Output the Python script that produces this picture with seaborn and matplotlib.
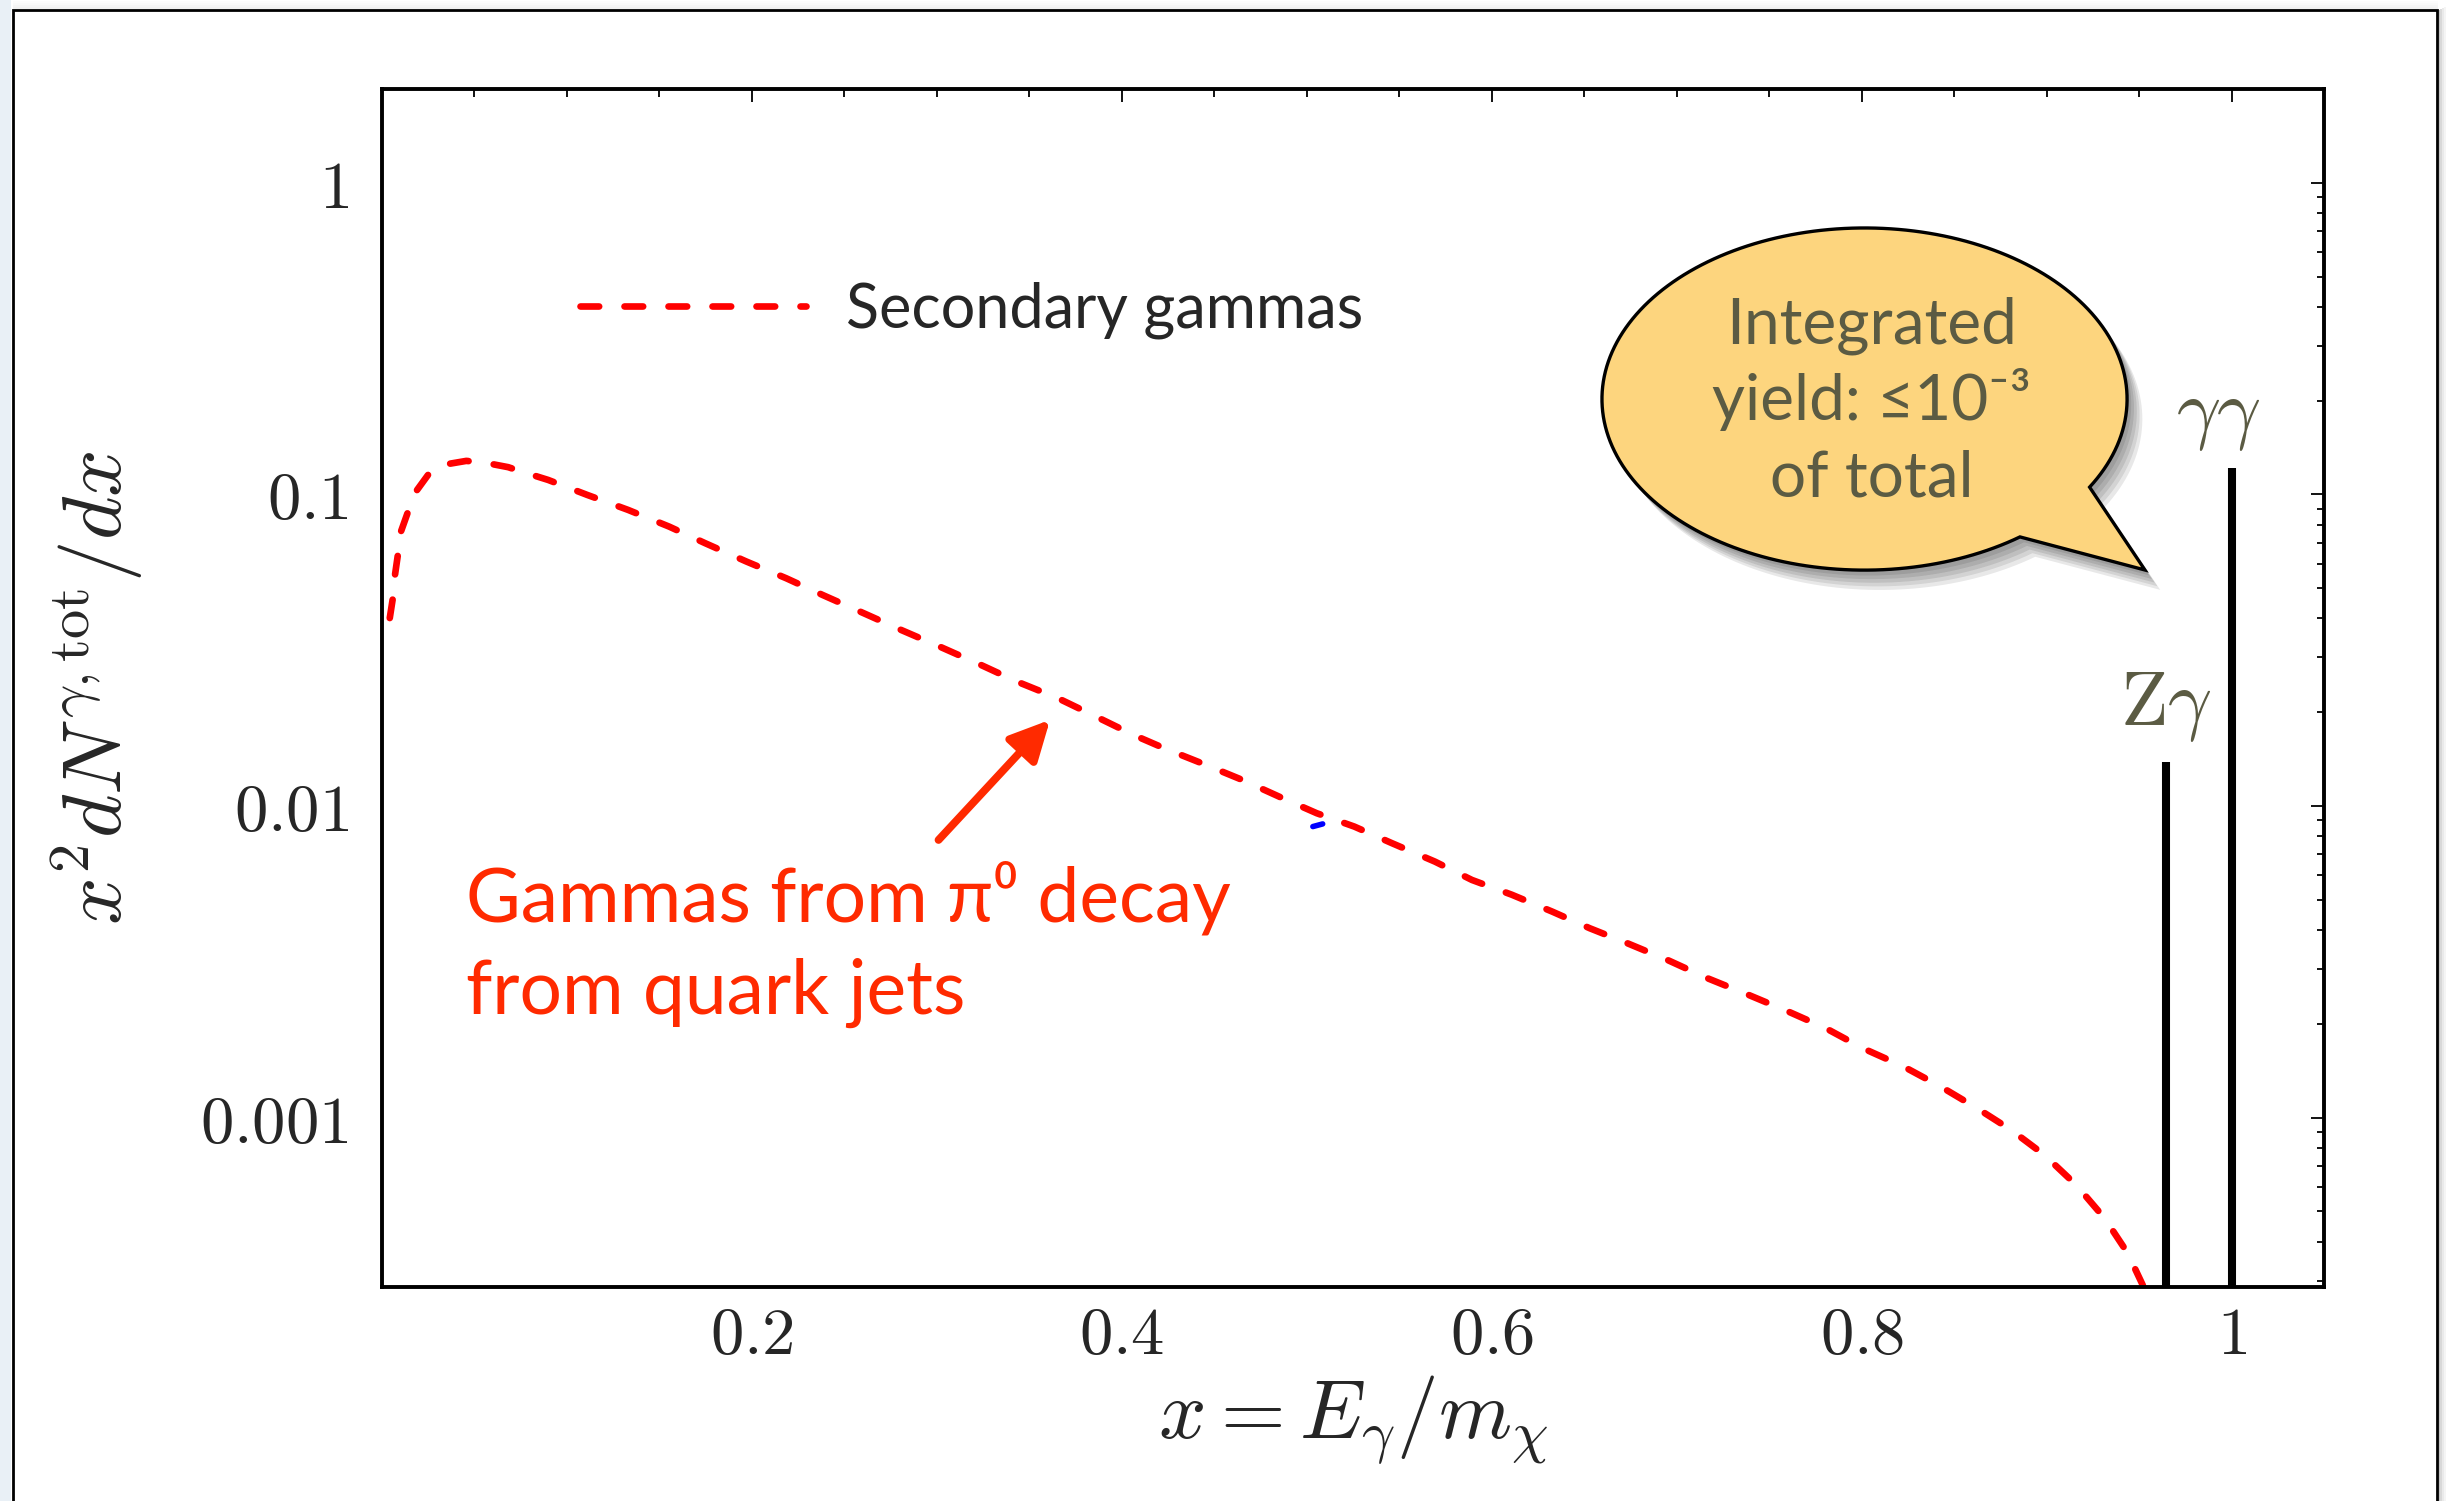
import numpy as np
import pandas as pd
import matplotlib
matplotlib.use("Agg")
import matplotlib.pyplot as plt
import seaborn as sns
from matplotlib.patches import Polygon, Rectangle
from matplotlib.ticker import FixedLocator, FixedFormatter, LogLocator, NullFormatter
import matplotlib.patheffects as pe

# Secondary photon spectrum x^2 dN/dx versus x = E_gamma / m_chi
x_frac = [0.0042, 0.0060, 0.0069, 0.0087, 0.0096, 0.0141, 0.0177, 0.0249, 0.0330,
          0.0456, 0.0556, 0.0682, 0.0781, 0.0898, 0.1110, 0.1330, 0.1553, 0.1748,
          0.1970, 0.2186, 0.2381, 0.2603, 0.2808, 0.3014, 0.3236, 0.3431, 0.3653,
          0.3842, 0.4064, 0.4232, 0.4432, 0.4651, 0.4870, 0.5054, 0.5257, 0.5460,
          0.5693, 0.5893, 0.6109, 0.6328, 0.6531, 0.6732, 0.6948, 0.7167, 0.7386,
          0.7603, 0.7803, 0.8006, 0.8225, 0.8425, 0.8626, 0.8808, 0.8988, 0.9160,
          0.9313, 0.9439, 0.9520, 0.9580]
spectrum = [0.0401, 0.0470, 0.0545, 0.0647, 0.0741, 0.0881, 0.1009, 0.1155, 0.1244,
            0.1281, 0.1264, 0.1223, 0.1170, 0.1113, 0.0996, 0.0892, 0.0788, 0.0697,
            0.0609, 0.0538, 0.0476, 0.0416, 0.0367, 0.0325, 0.0284, 0.0251, 0.0222,
            0.0196, 0.0169, 0.0153, 0.01372, 0.01213, 0.01059, 0.00948, 0.00859, 0.0076,
            0.00663, 0.00579, 0.00519, 0.00458, 0.00405, 0.00363, 0.00321, 0.0028, 0.00248,
            0.00219, 0.00194, 0.00167, 0.00146, 0.00126, 0.00107, 0.000913, 0.000759, 0.000608,
            0.000476, 0.000367, 0.00029, 0.0002]

# Monochromatic lines
line_names = [r"$\mathrm{Z}\gamma$", r"$\gamma\gamma$"]
line_x = [0.9647, 1.0]
line_height = [0.0138, 0.1216]
line_label_x = [0.9647, 0.993]
line_label_y = [0.0182, 0.1563]

# small blue segment
blue_x = [0.5033, 0.5086]
blue_y = [0.00859, 0.00876]

x_tick_vals = [0.2, 0.4, 0.6, 0.8, 1.0]
x_tick_labels = ["0.2", "0.4", "0.6", "0.8", "1"]
y_tick_vals = [1, 0.1, 0.01, 0.001]
y_tick_labels = ["1", "0.1", "0.01", "0.001"]

sns.set_style("white")
plt.rcParams["mathtext.fontset"] = "cm"
plt.rcParams["font.family"] = ["Lato", "DejaVu Sans"]

W, H = 2446, 1501
fig = plt.figure(figsize=(W / 200, H / 200), dpi=200)
fig.patch.set_facecolor("white")

# page frame with soft shadow
for i, a in enumerate([0.35, 0.22, 0.12, 0.06]):
    fig.patches.append(Rectangle(((2438 + 2 * i) / W, 0), 2 / W, 1 - (10 - i) / H,
                                 transform=fig.transFigure, facecolor="#555555",
                                 alpha=a, edgecolor="none", zorder=0))
for i, a in enumerate([0.10, 0.07, 0.04, 0.02]):
    fig.patches.append(Rectangle((13 / W, 1 - (9 - 2 * i) / H), (2425) / W, 2 / H,
                                 transform=fig.transFigure, facecolor="#777777",
                                 alpha=a, edgecolor="none", zorder=0))
fig.patches.append(Rectangle((0, 0), 11 / W, 1, transform=fig.transFigure,
                             facecolor="#e9f0f6", edgecolor="none", zorder=0))
fig.patches.append(Rectangle((13 / W, -0.02), 2424 / W, 1.02 - 10 / H,
                             transform=fig.transFigure, facecolor="none",
                             edgecolor="black", lw=1.0, zorder=1))

ax = fig.add_axes([382 / W, 1 - 1287 / H, (2324 - 382) / W, (1287 - 89) / H])
ax.set_facecolor("white")

df = pd.DataFrame({"x": x_frac, "y": spectrum})
sns.lineplot(data=df, x="x", y="y", ax=ax, color="#ff0000", lw=2.4, sort=False,
             estimator=None, label="Secondary gammas")
main_line = ax.lines[0]
main_line.set_dashes([2.8, 3.8])
main_line.set_dash_capstyle("round")

ax.plot(blue_x, blue_y, color="#0000ff", lw=2.0, solid_capstyle="round")

ax.vlines(line_x, 1e-6, line_height, colors="black", lw=2.9)
for name, lx, ly in zip(line_names, line_label_x, line_label_y):
    ax.text(lx, ly, name, fontsize=28, color="#5b5b43", ha="center", va="baseline")

ax.set_yscale("log")
ax.set_xlim(0, 1.05)
ax.set_ylim(2.86e-4, 2.0)

ax.xaxis.set_major_locator(FixedLocator(x_tick_vals))
ax.xaxis.set_major_formatter(FixedFormatter(["$%s$" % t for t in x_tick_labels]))
ax.xaxis.set_minor_locator(FixedLocator(np.arange(1, 21) * 0.05))
ax.yaxis.set_major_locator(FixedLocator(y_tick_vals))
ax.yaxis.set_major_formatter(FixedFormatter(["$%s$" % t for t in y_tick_labels]))
ax.yaxis.set_minor_locator(LogLocator(base=10, subs=np.arange(2, 10)))
ax.yaxis.set_minor_formatter(NullFormatter())

ax.tick_params(which="both", direction="in", top=True, right=True, width=0.7,
               color="#111111", labelsize=24)
ax.tick_params(which="major", length=4.6)
ax.tick_params(which="minor", length=2.7)
ax.tick_params(axis="x", pad=6)
ax.tick_params(axis="y", pad=12)
for s in ax.spines.values():
    s.set_linewidth(1.4)
    s.set_color("black")

ax.set_xlabel(r"$x = E_\gamma/m_\chi$", fontsize=30)
ax.xaxis.set_label_coords(0.5, -0.0718)
ax.set_ylabel(r"$x^2dN^{\gamma,\mathrm{tot}}/dx$", fontsize=30)
ax.yaxis.set_label_coords(-0.122, 0.5)

ax.legend(loc="center left", bbox_to_anchor=(580 / W, 1 - 310 / H),
          bbox_transform=fig.transFigure, frameon=False, fontsize=22,
          handlelength=3.7, handletextpad=0.65, borderpad=0, borderaxespad=0)

# annotation for the pi0 component
red = "#ff2a00"
ax.annotate("", xy=(0.3612, 0.0189), xytext=(0.3009, 0.00778),
            arrowprops=dict(arrowstyle="-|>,head_length=0.4,head_width=0.2",
                            color=red, lw=2.8, mutation_scale=30,
                            shrinkA=0, shrinkB=0))
ax.text(0.04325, 0.3049, "Gammas from π⁰ decay", transform=ax.transAxes,
        fontsize=27, color=red, va="baseline", ha="left")
ax.text(0.04325, 0.2285, "from quark jets", transform=ax.transAxes,
        fontsize=27, color=red, va="baseline", ha="left")

# speech bubble
cx, cy, rx, ry = 0.7634, 0.7412, 0.1352, 0.1428
t1 = np.deg2rad(-31.0)
t2 = np.deg2rad(-53.7 + 360)
tt = np.linspace(t1, t2, 200)
verts = list(zip(cx + rx * np.cos(tt), cy + ry * np.sin(tt)))
verts.append((0.9078, 0.5985))
bubble = Polygon(verts, closed=True, transform=ax.transAxes, facecolor="#fdd57e",
                 edgecolor="black", lw=1.2, zorder=5,
                 path_effects=[pe.SimplePatchShadow(offset=(o, -1.3 * o), shadow_rgbFace="k",
                                                    alpha=0.09)
                               for o in (1.5, 2.5, 3.5, 4.5, 5.5)] + [pe.Normal()])
ax.add_patch(bubble)
bubble_lines = ["Integrated", "yield: ≤10⁻³", "of total"]
for txt, yy in zip(bubble_lines, [0.7877, 0.7237, 0.6597]):
    ax.text(0.7672, yy, txt, transform=ax.transAxes, fontsize=23, color="#5b5b43",
            ha="center", va="baseline", zorder=6)

fig.savefig("out.png", dpi=200)
